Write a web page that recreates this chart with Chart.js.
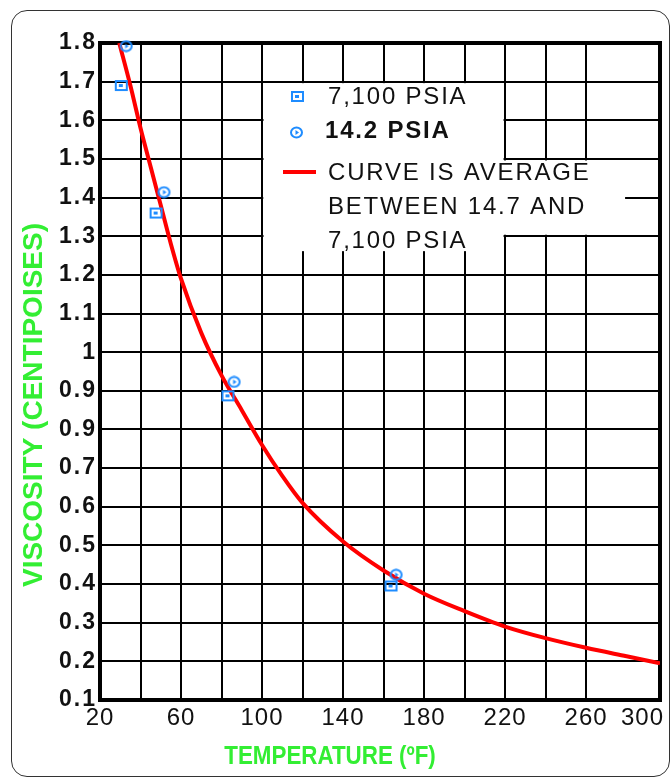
<!DOCTYPE html>
<html>
<head>
<meta charset="utf-8">
<script src="https://cdn.jsdelivr.net/npm/chart.js@4.4.1/dist/chart.umd.min.js"></script>
<style>
  html, body { margin: 0; padding: 0; background: #fff; }
  #wrap { position: relative; width: 672px; height: 780px; overflow: hidden; }
  #frame {
    position: absolute; left: 11px; top: 10px; width: 659px; height: 767px;
    border: 1.5px solid #333; border-radius: 16px; box-sizing: border-box;
  }
  canvas { position: absolute; left: 0; top: 0; }
</style>
</head>
<body>
<div id="wrap">
  <div id="frame"></div>
  <canvas id="chart" width="672" height="780"></canvas>
</div>
<script>
// averaged curve, temperature (°F) -> viscosity (cP)
const curveTemps = [29.5, 35, 40, 45, 50, 55, 60, 70, 80, 90, 100, 110, 120, 140, 160, 180, 200, 220, 240, 260, 280, 296.5];
const curveVisc = [1.80, 1.69, 1.58, 1.48, 1.38, 1.28, 1.19, 1.05, 0.94, 0.85, 0.76, 0.68, 0.61, 0.51, 0.435, 0.375, 0.33, 0.29, 0.26, 0.235, 0.213, 0.195];

// measured points
const highTemps = [30.5, 47.7, 83.2, 163.7];   // 7,100 psia
const highVisc = [1.69, 1.36, 0.887, 0.395];
const lowTemps = [32.9, 51.6, 86.2, 166.2];    // 14.2 psia
const lowVisc = [1.792, 1.414, 0.923, 0.424];

const xTickLabels = [20, 60, 100, 140, 180, 220, 260, 300];
const yTickLabels = ['0.1', '0.2', '0.3', '0.4', '0.5', '0.6', '0.7', '0.9', '0.9', '1',
  '1.1', '1.2', '1.3', '1.4', '1.5', '1.6', '1.7', '1.8'];

const seriesNames = ['7,100 PSIA', '14.2 PSIA'];
const curveNote = ['CURVE IS AVERAGE', 'BETWEEN 14.7 AND', '7,100 PSIA'];

const BLUE = '#1e8cff';
const GREEN = '#33ee33';
const FONT = '"Liberation Sans", Arial, sans-serif';

function toPoints(xs, ys) {
  return xs.map((x, i) => ({ x: x, y: ys[i] }));
}

// small marker images: open square with a dot, open circle with a triangle
function makeMarker(kind) {
  const c = document.createElement('canvas');
  c.width = 15;
  c.height = 13;
  const g = c.getContext('2d');
  g.strokeStyle = BLUE;
  g.fillStyle = BLUE;
  g.lineWidth = 2;
  if (kind === 'square') {
    g.strokeRect(2, 2, 11, 9);
    g.fillRect(5, 5, 4, 3);
  } else {
    g.beginPath();
    g.ellipse(7.5, 6.5, 5.5, 5, 0, 0, Math.PI * 2);
    g.stroke();
    g.beginPath();
    g.moveTo(6.5, 4);
    g.lineTo(10, 6.5);
    g.lineTo(6.5, 9);
    g.closePath();
    g.fill();
  }
  return c;
}
const squareMark = makeMarker('square');
const circleMark = makeMarker('circle');

// frame, legend box, x labels and axis titles
const decor = {
  id: 'decor',
  beforeDraw(chart) {
    chart.ctx.letterSpacing = '2px';
  },
  beforeDatasetsDraw(chart) {
    const { ctx, chartArea: a } = chart;
    const x = chart.scales.x, y = chart.scales.y;
    ctx.save();
    ctx.lineWidth = 4;
    ctx.strokeStyle = '#000';
    ctx.strokeRect(a.left, a.top, a.right - a.left, a.bottom - a.top);

    // legend area blanks out part of the grid
    const l = x.getPixelForValue(100) + 1.5;
    ctx.fillStyle = '#fff';
    ctx.fillRect(l, y.getPixelForValue(1.7) + 1.5, x.getPixelForValue(220) - 1.5 - l, 168);
    ctx.fillRect(l, y.getPixelForValue(1.5) + 1.5, x.getPixelForValue(280) - 1.5 - l,
      y.getPixelForValue(1.3) - y.getPixelForValue(1.5) - 3);

    ctx.drawImage(squareMark, 290, 90);
    ctx.drawImage(circleMark, 289, 126);
    ctx.strokeStyle = '#ff0000';
    ctx.lineWidth = 4;
    ctx.beginPath();
    ctx.moveTo(283, 172);
    ctx.lineTo(316, 172);
    ctx.stroke();

    ctx.fillStyle = '#111';
    ctx.textBaseline = 'middle';
    ctx.textAlign = 'left';
    ctx.letterSpacing = '1.8px';
    ctx.font = '24px ' + FONT;
    ctx.fillText(seriesNames[0], 328, 97);
    ctx.font = 'bold 24px ' + FONT;
    ctx.fillText(seriesNames[1], 325, 131);
    ctx.font = '24px ' + FONT;
    curveNote.forEach((t, i) => ctx.fillText(t, 328, 173 + i * 34));
    ctx.restore();
  },
  afterDraw(chart) {
    const { ctx, chartArea: a } = chart;
    const x = chart.scales.x;
    ctx.save();
    ctx.fillStyle = '#111';
    ctx.font = '24px ' + FONT;
    ctx.letterSpacing = '1px';
    ctx.textAlign = 'center';
    ctx.textBaseline = 'top';
    xTickLabels.forEach(v => {
      const s = String(v);
      const w = ctx.measureText(s).width;
      const px = Math.min(x.getPixelForValue(v), a.right + 4 - w / 2);
      ctx.fillText(s, px, a.bottom + 6);
    });

    ctx.fillStyle = GREEN;
    ctx.letterSpacing = '0px';
    ctx.textBaseline = 'middle';

    // x title, slightly condensed
    ctx.save();
    ctx.translate(330, 757);
    ctx.scale(0.86, 1);
    ctx.font = 'bold 26px ' + FONT;
    ctx.fillText('TEMPERATURE (ºF)', 0, 0);
    ctx.restore();

    ctx.translate(34, 405);
    ctx.rotate(-Math.PI / 2);
    ctx.font = 'bold 28px ' + FONT;
    ctx.fillText('VISCOSITY (CENTIPOISES)', 0, 0);
    ctx.restore();
  }
};

new Chart(document.getElementById('chart'), {
  type: 'scatter',
  data: {
    datasets: [
      {
        label: seriesNames[0],
        data: toPoints(highTemps, highVisc),
        pointStyle: squareMark,
        clip: false,
        order: 1
      },
      {
        label: seriesNames[1],
        data: toPoints(lowTemps, lowVisc),
        pointStyle: circleMark,
        clip: false,
        order: 1
      },
      {
        label: curveNote.join(' '),
        data: toPoints(curveTemps, curveVisc),
        showLine: true,
        borderColor: '#ff0000',
        borderWidth: 4,
        pointRadius: 0,
        cubicInterpolationMode: 'monotone',
        order: 2
      }
    ]
  },
  options: {
    responsive: false,
    animation: false,
    devicePixelRatio: 1,
    layout: { padding: { top: 43, right: 12, left: 0, bottom: 0 } },
    plugins: {
      legend: { display: false },
      tooltip: { enabled: false }
    },
    scales: {
      x: {
        type: 'linear',
        min: 20,
        max: 296.5,
        afterFit: s => { s.height = 80; },
        ticks: { stepSize: 20, display: false },
        grid: { color: '#000', lineWidth: 2, drawTicks: false },
        border: { color: '#000', width: 4 }
      },
      y: {
        min: 0.1,
        max: 1.8,
        afterFit: s => { s.width = 100; },
        ticks: {
          stepSize: 0.1,
          padding: 3,
          color: '#111',
          font: { family: FONT, size: 23, weight: 'bold' },
          callback: (v, i) => yTickLabels[i]
        },
        grid: { color: '#000', lineWidth: 2, drawTicks: false },
        border: { color: '#000', width: 4 }
      }
    }
  },
  plugins: [decor]
});
</script>
</body>
</html>
